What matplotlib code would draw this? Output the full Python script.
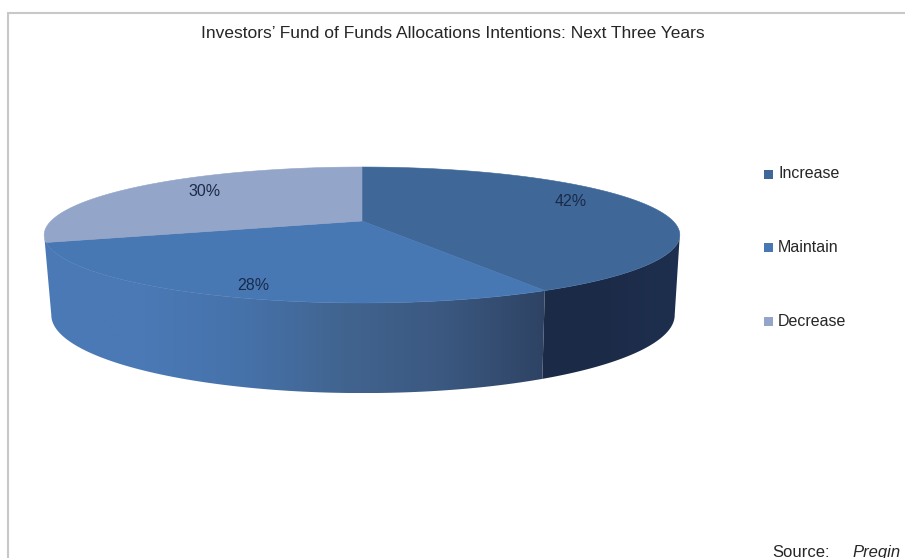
import numpy
import matplotlib
matplotlib.use("Agg")
import matplotlib.pyplot as plt
from matplotlib.colors import LinearSegmentedColormap
from matplotlib.patches import Polygon, Rectangle

plt.rcParams["font.family"] = ["Liberation Sans", "DejaVu Sans"]

categories = ["Increase", "Maintain", "Decrease"]
shares = [42, 28, 30]
title = "Investors\u2019 Fund of Funds Allocations Intentions: Next Three Years"

top_colors = ["#3f6899", "#4878b4", "#93a5c8"]
wall_stops = {
    "Increase": ["#1b2a47", "#1c2b48", "#1e2f4f"],
    "Maintain": ["#4a7ab7", "#4a79b5", "#4672aa", "#41648f", "#3b5880", "#2e4364"],
}
label_color = "#1a2a4a"

# perspective of the pie disc, in pixels of the picture
k = 0.206
center_x = 362
top_y, top_a, top_b = 221, 311, 65.1
bottom_x = 363
bottom_y, bottom_a, bottom_b = 299, 305, 74.7


def disc_point(theta, y0, a, b, cx=center_x):
    u = numpy.sin(theta)
    v = numpy.cos(theta)
    denom = 1 + k * v
    return cx + a * u / denom, y0 - b * v / denom


def wedge_angles(values):
    edges = numpy.cumsum([0] + list(values)) / float(sum(values))
    return edges * 2 * numpy.pi


def draw_wall(ax, start, end, stops):
    thetas = numpy.linspace(start, end, 200)
    xt, yt = disc_point(thetas, top_y, top_a, top_b)
    xb, yb = disc_point(thetas, bottom_y, bottom_a, bottom_b, bottom_x)
    points = numpy.column_stack([numpy.r_[xt, xb[::-1]], numpy.r_[yt, yb[::-1]]])
    outline = Polygon(points, closed=True, facecolor="none", edgecolor="none", transform=ax.transData)
    ax.add_patch(outline)
    left, right = points[:, 0].min(), points[:, 0].max()
    top, bottom = points[:, 1].min(), points[:, 1].max()
    cmap = LinearSegmentedColormap.from_list("wall", stops)
    gradient = numpy.linspace(0, 1, 256).reshape(1, -1)
    if xt[0] > xt[-1] and stops[0].startswith("#4"):
        gradient = gradient
    image = ax.imshow(gradient, extent=(left, right, bottom, top), cmap=cmap, aspect="auto", zorder=1)
    image.set_clip_path(outline)


def main():
    fig = plt.figure(figsize=(9.05, 5.58), dpi=100)
    ax = fig.add_axes([0, 0, 1, 1])

    angles = wedge_angles(shares)
    tangent = numpy.arcsin(k)
    draw_wall(ax, numpy.pi / 2 + tangent, angles[1], wall_stops["Increase"])
    draw_wall(ax, angles[1], 3 * numpy.pi / 2 - tangent, wall_stops["Maintain"])

    for i in range(len(shares)):
        thetas = numpy.linspace(angles[i], angles[i + 1], 200)
        x, y = disc_point(thetas, top_y, top_a, top_b)
        x = numpy.r_[center_x, x]
        y = numpy.r_[top_y, y]
        ax.fill(x, y, color=top_colors[i], linewidth=0.4, zorder=2)

    label_x = [571, 253, 205]
    label_y = [201, 286, 191]
    for share, x, y in zip(shares, label_x, label_y):
        ax.text(x, y, "%d%%" % share, ha="center", va="center", fontsize=11.5, color=label_color, zorder=3)

    legend_y = [174, 247, 321]
    for category, color, y in zip(categories, top_colors, legend_y):
        ax.add_patch(Rectangle((764, y - 4.5), 9, 9, facecolor=color, edgecolor="none"))
        ax.text(778, y, category, ha="left", va="center", fontsize=11.5, color="#262626")

    ax.text(453, 33, title, ha="center", va="center", fontsize=12.5, color="#262626")
    ax.text(772, 557, "Source:", ha="left", va="baseline", fontsize=12, color="#262626")
    ax.text(852, 557, "Preqin", ha="left", va="baseline", fontsize=12, style="italic", color="#262626")

    ax.plot([8, 8, 905], [558, 12.5, 12.5], color="#c8c8c8", linewidth=1.5, solid_joinstyle="miter")

    ax.set_xlim(0, 905)
    ax.set_ylim(558, 0)
    ax.axis("off")
    fig.savefig("out.png", dpi=100)


if __name__ == "__main__":
    main()
